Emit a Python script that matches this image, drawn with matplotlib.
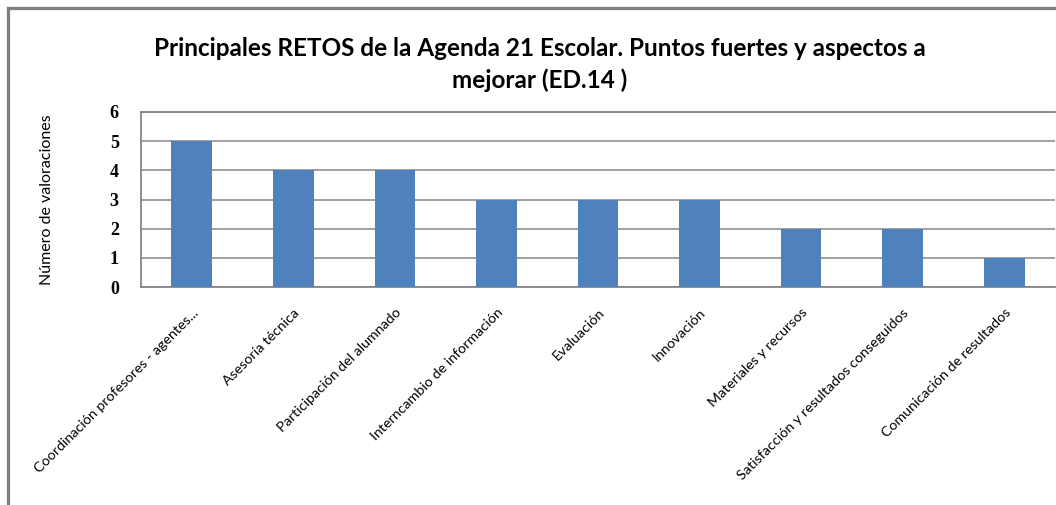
import matplotlib.pyplot as plt
from matplotlib.lines import Line2D

# Datos del gráfico
categorias = [
    "Coordinación profesores - agentes...",
    "Asesoría técnica",
    "Participación del alumnado",
    "Interncambio de información",
    "Evaluación",
    "Innovación",
    "Materiales y recursos",
    "Satisfacción y resultados conseguidos",
    "Comunicación de resultados",
]
valoraciones = [5, 4, 4, 3, 3, 3, 2, 2, 1]
ticks_y = [0, 1, 2, 3, 4, 5, 6]

W, H = 1056, 505
fig = plt.figure(figsize=(W / 100, H / 100), dpi=100)
fig.patch.set_facecolor("white")

gris = "#868686"

# Marco del gráfico (recortado a la derecha y abajo)
fig.add_artist(Line2D([8 / W, 1], [1 - 8 / H, 1 - 8 / H], color="#7f7f7f", lw=2.3))
fig.add_artist(Line2D([8 / W, 8 / W], [0, 1 - 8 / H], color="#7f7f7f", lw=2.3))

ax = fig.add_axes([141 / W, 1 - 287 / H, (1055 - 141) / W, (287 - 112) / H])
x = range(len(categorias))
ax.bar(x, valoraciones, width=0.4, color="#4F81BD", zorder=3)

ax.set_xlim(-0.5, len(categorias) - 0.5)
ax.set_ylim(0, 6)
ax.set_yticks(ticks_y)
ax.set_yticklabels([str(t) for t in ticks_y], family="Liberation Serif",
                   fontsize=13, fontweight="bold")
ax.yaxis.grid(True, color=gris, lw=1.1, zorder=0)
ax.tick_params(axis="both", length=0)
ax.tick_params(axis="y", pad=16)

ax.set_xticks(list(x))
ax.set_xticklabels(categorias, rotation=45, ha="right", va="top",
                   rotation_mode="anchor", family="Lato", fontsize=10.3)
ax.tick_params(axis="x", pad=14)

for s in ax.spines.values():
    s.set_color(gris)
    s.set_linewidth(1.3)
ax.spines["right"].set_visible(False)

ax.set_ylabel("Número de valoraciones", family="Lato", fontsize=11.5, labelpad=40)

fig.text(540 / W, 1 - 48 / H,
         "Principales RETOS de la Agenda 21 Escolar. Puntos fuertes y aspectos a",
         ha="center", va="center", family="Lato", fontweight="bold", fontsize=17.5)
fig.text(540 / W, 1 - 80 / H, "mejorar (ED.14 )",
         ha="center", va="center", family="Lato", fontweight="bold", fontsize=17.5)

fig.savefig("out.png", dpi=100)
